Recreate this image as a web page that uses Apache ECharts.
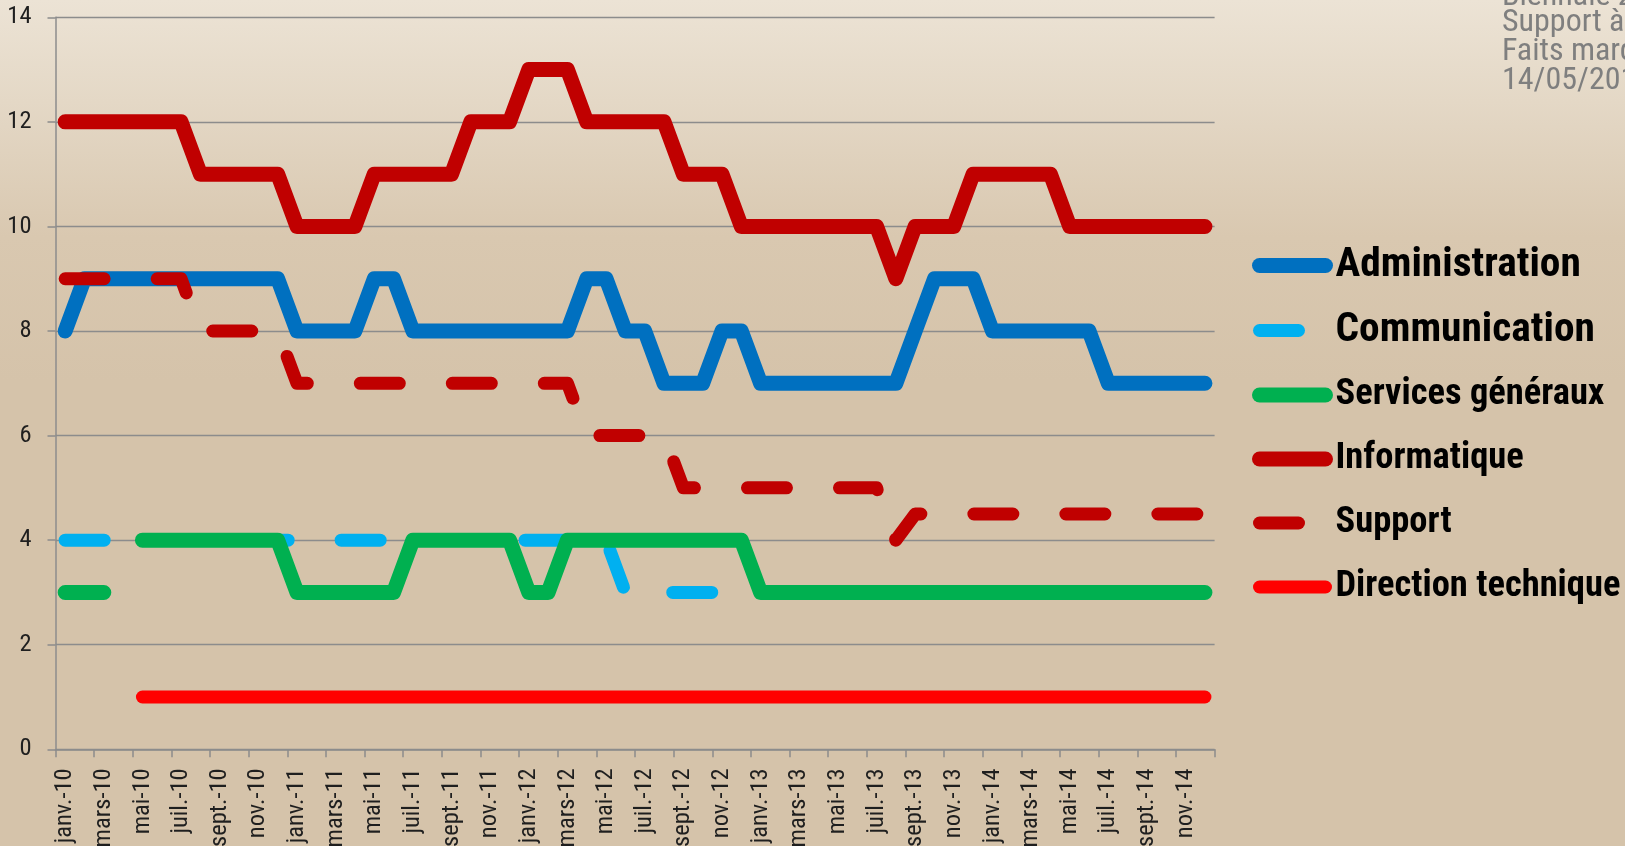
<!DOCTYPE html>
<html>
<head>
<meta charset="utf-8">
<script src="https://cdn.jsdelivr.net/npm/echarts@6/dist/echarts.min.js"></script>
<style>
html,body{margin:0;padding:0;width:1625px;height:846px;overflow:hidden;}
#c{width:1625px;height:846px;background:linear-gradient(to bottom,#ece3d5 0%,#e4d8c6 12%,#d9c8b0 28%,#d5c3aa 45%,#d5c3aa 100%);}
</style>
</head>
<body>
<div id="c"></div>
<script>
const months = ['janv.','févr.','mars','avr.','mai','juin','juil.','août','sept.','oct.','nov.','déc.'];
const years = ['10','11','12','13','14'];
const categories = [];
years.forEach(y => months.forEach(m => categories.push(m + '-' + y)));

const seriesNames = ['Administration','Communication','Services généraux','Informatique','Support','Direction technique'];

const administration = [8,9,9,9,9,9,9,9,9,9,9,9, 8,8,8,8,9,9,8,8,8,8,8,8, 8,8,8,9,9,8,8,7,7,7,8,8, 7,7,7,7,7,7,7,7,8,9,9,9, 8,8,8,8,8,8,7,7,7,7,7,7];
const communication = [4,4,4,4,4,4,4,4,4,4,4,4, 4,4,4,4,4,4,4,4,4,4,4,4, 4,4,4,4,4,3,3,3,3,3,3,3, 3,3,3,3,3,3,3,3,3,3,3,3, 3,3,3,3,3,3,3,3,3,3,3,3];
const servicesGeneraux = [3,3,3,null,4,4,4,4,4,4,4,4, 3,3,3,3,3,3,4,4,4,4,4,4, 3,3,4,4,4,4,4,4,4,4,4,4, 3,3,3,3,3,3,3,3,3,3,3,3, 3,3,3,3,3,3,3,3,3,3,3,3];
const informatique = [12,12,12,12,12,12,12,11,11,11,11,11, 10,10,10,10,11,11,11,11,11,12,12,12, 13,13,13,12,12,12,12,12,11,11,11,10, 10,10,10,10,10,10,10,9,10,10,10,11, 11,11,11,11,10,10,10,10,10,10,10,10];
const support = [9,9,9,9,9,9,9,8,8,8,8,8, 7,7,7,7,7,7,7,7,7,7,7,7, 7,7,7,6,6,6,6,6,5,5,5,5, 5,5,5,5,5,5,5,4,4.5,4.5,4.5,4.5, 4.5,4.5,4.5,4.5,4.5,4.5,4.5,4.5,4.5,4.5,4.5,4.5];
const directionTechnique = [null,null,null,null,1,1,1,1,1,1,1,1, 1,1,1,1,1,1,1,1,1,1,1,1, 1,1,1,1,1,1,1,1,1,1,1,1, 1,1,1,1,1,1,1,1,1,1,1,1, 1,1,1,1,1,1,1,1,1,1,1,1];

const yTicks = ['0','2','4','6','8','10','12','14'];
const cornerLines = ['Biennale 2014','Support à la production','Faits marquants','14/05/2014'];

// ---- pick the narrowest installed sans font and a width-matching factor ----
const mc = document.createElement('canvas').getContext('2d');
function w(font, s) { mc.font = font; return mc.measureText(s).width; }
function installed(f) {
  const s = 'Administration mmwwiiAB 0123';
  return w('40px "' + f + '", monospace', s) !== w('40px monospace', s) ||
         w('40px "' + f + '", serif', s) !== w('40px serif', s);
}
const candidates = ['Liberation Sans Narrow','Arial Narrow','Noto Sans ExtraCondensed','Noto Sans Condensed','Roboto Condensed','Open Sans Condensed','Noto Sans SemiCondensed','DejaVu Sans Condensed','Liberation Sans'];
let FAM = 'sans-serif';
for (const f of candidates) { if (installed(f)) { FAM = '"' + f + '"'; break; } }
const FONT = FAM + ', sans-serif';
// Arial Narrow Bold reference width (em) for "Administration": 5.77
const kBold = w('bold 100px ' + FONT, 'Administration') / 577;
function fit(size, k) { const r = 1 / k; return Math.round(size * Math.max(0.7, Math.min(1.2, r)) * 10) / 10; }

const DASH = [39, 53];
const seriesDefs = [
  {name: seriesNames[0], data: administration, color: '#0070c0', width: 15, type: 'solid'},
  {name: seriesNames[1], data: communication, color: '#00b0f0', width: 13, type: DASH},
  {name: seriesNames[2], data: servicesGeneraux, color: '#00b050', width: 15, type: 'solid'},
  {name: seriesNames[3], data: informatique, color: '#c00000', width: 15, type: 'solid'},
  {name: seriesNames[4], data: support, color: '#c00000', width: 13, type: DASH},
  {name: seriesNames[5], data: directionTechnique, color: '#ff0000', width: 13, type: 'solid'}
];

const axisSize = 24.5;
const cornerSize = 32;
const cornerMiddles = [-3, 23, 52, 81];

const chart = echarts.init(document.getElementById('c'), null, {renderer: 'canvas'});
chart.setOption({
  animation: false,
  backgroundColor: 'transparent',
  textStyle: {fontFamily: FONT},
  grid: {left: 55.5, right: 410.4, top: 17.3, bottom: 96.7, containLabel: false, outerBoundsMode: 'none'},
  xAxis: {
    type: 'category',
    data: categories,
    boundaryGap: true,
    axisLine: {lineStyle: {color: '#8c8c8c', width: 1.5}},
    axisTick: {show: true, interval: 1, length: 8, lineStyle: {color: '#8c8c8c', width: 1.5}},
    axisLabel: {interval: 1, rotate: 90, margin: 19, fontSize: axisSize, color: '#1f1f1f', fontFamily: FONT, padding: [18, 0, 0, 0]}
  },
  yAxis: {
    type: 'value',
    min: 0, max: 14, interval: 2,
    axisLine: {show: true, lineStyle: {color: '#8c8c8c', width: 1.5}},
    axisTick: {show: true, length: 8, lineStyle: {color: '#8c8c8c', width: 1.5}},
    splitLine: {show: true, lineStyle: {color: '#8c8c8c', width: 1.3}},
    axisLabel: {margin: 24, fontSize: axisSize, color: '#1f1f1f', fontFamily: FONT,
      formatter: v => yTicks[Math.round(v / 2)]}
  },
  legend: {
    orient: 'vertical',
    left: 1252, top: 245,
    padding: 0,
    itemWidth: 66, itemHeight: 20, itemGap: 24,
    itemStyle: {opacity: 0},
    lineStyle: {width: 'inherit', type: 'inherit', cap: 'inherit', opacity: 1},
    textStyle: {fontSize: fit(37.5, kBold), fontWeight: 'bold', color: '#000', fontFamily: FONT, lineHeight: 40, padding: [0,0,0,5]},
    data: seriesNames.map((n, i) => ({name: n, textStyle: {fontSize: fit(i < 2 ? 42.5 : 37.5, kBold)}}))
  },
  graphic: cornerLines.map((t, i) => ({
    type: 'text', x: 1502, y: cornerMiddles[i], silent: true,
    style: {text: t, fill: '#7f7f7f', font: cornerSize + 'px ' + FONT, verticalAlign: 'middle', align: 'left'}
  })),
  series: seriesDefs.map(d => ({
    name: d.name, type: 'line', data: d.data, symbol: 'none', showSymbol: false,
    connectNulls: false,
    itemStyle: {color: d.color},
    lineStyle: {color: d.color, width: d.width, type: d.type, cap: 'round', join: 'round'},
    emphasis: {disabled: true}
  }))
});
</script>
</body>
</html>
